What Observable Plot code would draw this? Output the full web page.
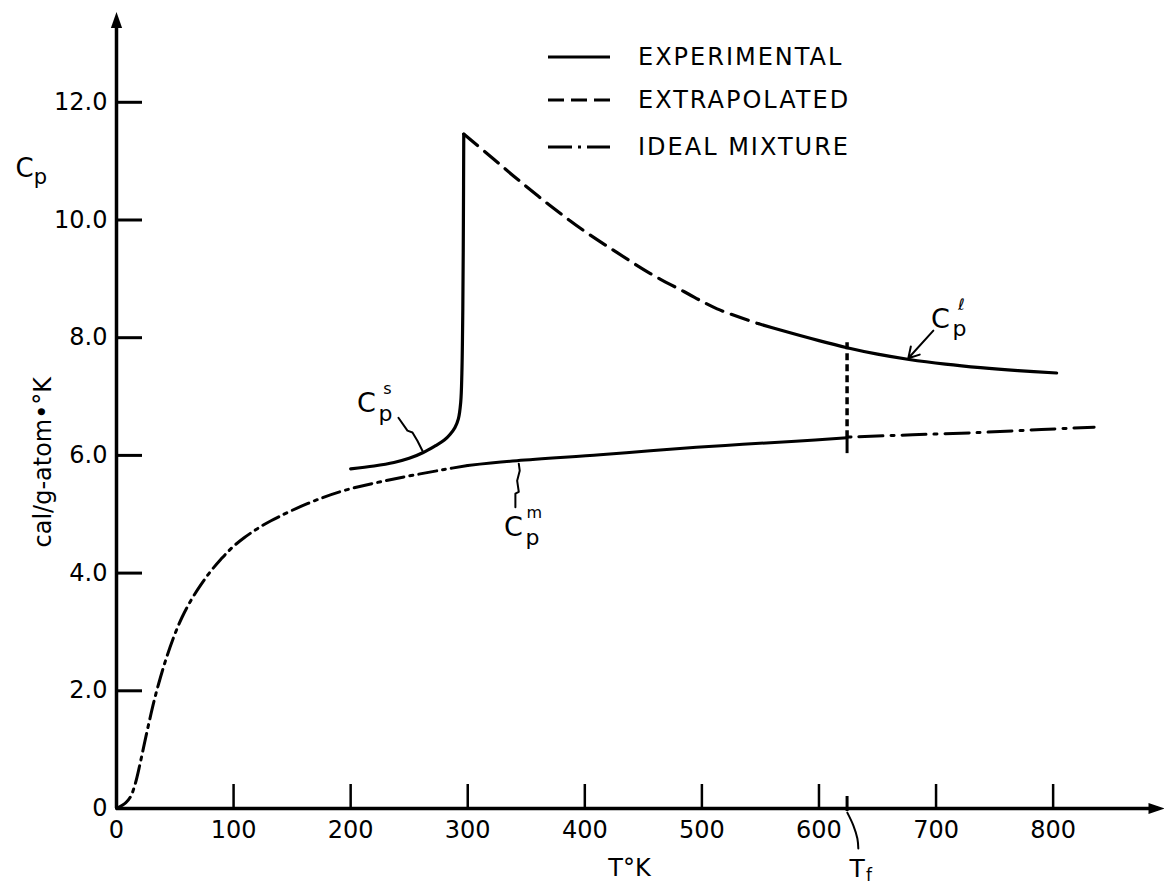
<!DOCTYPE html>
<html><head><meta charset="utf-8">
<script src="https://cdn.jsdelivr.net/npm/d3@7"></script>
<script src="https://cdn.jsdelivr.net/npm/@observablehq/plot@0.6"></script>
<style>
body{margin:0;background:#fff;}
#wrap{position:relative;width:1164px;height:885px;}
#wrap svg.chart{position:absolute;left:0;top:0;}
#legend{position:absolute;left:548px;top:0;font-family:"DejaVu Sans";font-size:24px;letter-spacing:2px;color:#000;}
#legend .row{position:absolute;left:0;display:flex;align-items:center;white-space:nowrap;height:40px;}
#legend .row span{margin-left:28px;}
g[aria-label="ylabel"] text{letter-spacing:1.5px;}
</style></head><body><div id="wrap"></div>
<script>
// ---- data ----
const xTickLabels = [0, 100, 200, 300, 400, 500, 600, 700, 800];
const xTickMarks = [100, 200, 300, 400, 500, 600, 700, 800];
const yTickLabels = [0, 2, 4, 6, 8, 10, 12];
const yTickMarks = [2, 4, 6, 8, 10, 12];
const Tf = 624;

// ideal mixture Cp^m
const idealLowT  = [0, 8, 12, 16, 20, 24, 28, 32, 36, 42, 49, 56, 64, 72, 80, 89, 98, 109, 120, 132, 163, 194, 237, 280, 300];
const idealLowCp = [0, 0.10, 0.20, 0.42, 0.75, 1.12, 1.48, 1.82, 2.12, 2.52, 2.92, 3.25, 3.55, 3.80, 4.02, 4.23, 4.42, 4.60, 4.75, 4.89, 5.18, 5.40, 5.60, 5.76, 5.83];
const idealMidT  = [300, 342, 413, 456, 520, 580, 624];
const idealMidCp = [5.83, 5.91, 6.01, 6.08, 6.17, 6.24, 6.30];
const idealHighT  = [624, 680, 738, 790, 835];
const idealHighCp = [6.31, 6.35, 6.39, 6.44, 6.48];
const idealStepCp = [6.03, 6.30];

// experimental solid Cp^s
const solidT  = [200, 220, 237, 250, 262, 272, 280, 285, 289, 292, 294, 295, 295.8, 296.3, 296.6];
const solidCp = [5.77, 5.82, 5.88, 5.95, 6.05, 6.16, 6.26, 6.36, 6.47, 6.62, 6.9, 7.4, 8.5, 10.0, 11.46];
// extrapolated
const extrapT  = [296.6, 320, 342, 370, 399, 428, 456, 485, 513, 548];
const extrapCp = [11.46, 11.07, 10.70, 10.25, 9.82, 9.44, 9.09, 8.78, 8.49, 8.24];
// experimental liquid Cp^l
const liquidT  = [548, 567, 600, 624, 650, 677, 708, 738, 770, 803];
const liquidCp = [8.24, 8.13, 7.95, 7.83, 7.72, 7.63, 7.55, 7.49, 7.44, 7.40];
const tfLineCp = [6.30, 7.95];

// annotation labels (C_p with superscripts) and leaders
const labelT   = [213.5, 339, 703.7];
const labelCp  = [6.88, 4.775, 8.31];
const labelSup = ["s", "m", "ℓ"];
const leaderST  = [240.8, 248.5, 252.8, 257.0, 261.3];
const leaderSCp = [6.64, 6.42, 6.39, 6.25, 6.08];
const leaderMT  = [343.6, 344.4, 342.2, 343.6, 340.7, 340.7];
const leaderMCp = [5.86, 5.74, 5.57, 5.38, 5.35, 5.12];
const leaderLT  = [697.7, 676.3];
const leaderLCp = [8.12, 7.65];
const leaderTfT  = [624.2, 629.4, 632.8, 633.6];
const leaderTfCp = [-0.07, -0.29, -0.51, -0.68];

const legendLabels = ["EXPERIMENTAL", "EXTRAPOLATED", "IDEAL MIXTURE"];

// ---- build ----
const zipTC = (T, C) => T.map((t, i) => ({T: t, Cp: C[i]}));
const W = 1164, H = 885, mL = 116, mR = 6, mT = 19.4, mB = 77;
const frameW = W - mL - mR, frameH = H - mT - mB;

const arrowUp = {draw(ctx, size) { const r = Math.sqrt(size / Math.PI); ctx.moveTo(0, -r); ctx.lineTo(r * 0.7, r); ctx.lineTo(-r * 0.7, r); ctx.closePath(); }};
const arrowRight = {draw(ctx, size) { const r = Math.sqrt(size / Math.PI); ctx.moveTo(r, 0); ctx.lineTo(-r, r * 0.7); ctx.lineTo(-r, -r * 0.7); ctx.closePath(); }};

const labels = labelT.map((t, i) => ({T: t, Cp: labelCp[i], sup: labelSup[i]}));
const font = "DejaVu Sans";
const mid = {textAnchor: "middle", lineAnchor: "middle"};

const chart = Plot.plot({
  width: W, height: H,
  marginLeft: mL, marginRight: mR, marginTop: mT, marginBottom: mB,
  style: {fontFamily: font, fontSize: "24px", background: "white", color: "black", overflow: "visible"},
  x: {domain: [0, 890], ticks: xTickLabels, tickSize: 0, tickPadding: 12, label: null, tickFormat: d => String(d)},
  y: {domain: [0, 13.4], ticks: yTickLabels, tickSize: 0, tickPadding: 9, label: null, tickFormat: d => d === 0 ? "0" : d.toFixed(1)},
  marks: [
    Plot.ruleX([0], {strokeWidth: 3.5}),
    Plot.ruleY([0], {strokeWidth: 3.5}),
    Plot.dot([0], {frameAnchor: "top-left", symbol: arrowUp, r: 8, fill: "black"}),
    Plot.dot([0], {frameAnchor: "bottom-right", symbol: arrowRight, r: 8, fill: "black", dx: -2}),
    Plot.tickY(yTickMarks, {y: d => d, insetRight: frameW - 26, strokeWidth: 3}),
    Plot.tickX(xTickMarks, {x: d => d, insetTop: frameH - 24, strokeWidth: 2.5}),
    Plot.tickX([Tf], {x: d => d, insetTop: frameH - 12, insetBottom: -3, strokeWidth: 3}),

    // ideal mixture
    Plot.line(zipTC(idealLowT, idealLowCp), {x: "T", y: "Cp", curve: "catmull-rom", strokeWidth: 3, strokeDasharray: "18,6,3,6"}),
    Plot.line(zipTC(idealMidT, idealMidCp), {x: "T", y: "Cp", curve: "catmull-rom", strokeWidth: 3}),
    Plot.line(zipTC(idealHighT, idealHighCp), {x: "T", y: "Cp", curve: "catmull-rom", strokeWidth: 3, strokeDasharray: "24,8,3,8", strokeDashoffset: -12}),
    Plot.ruleX([Tf], {y1: idealStepCp[0], y2: idealStepCp[1], strokeWidth: 3}),

    // experimental / extrapolated
    Plot.line(zipTC(solidT, solidCp), {x: "T", y: "Cp", curve: "catmull-rom", strokeWidth: 3.2}),
    Plot.line(zipTC(extrapT, extrapCp), {x: "T", y: "Cp", curve: "catmull-rom", strokeWidth: 3.2, strokeDasharray: "18,9"}),
    Plot.line(zipTC(liquidT, liquidCp), {x: "T", y: "Cp", curve: "catmull-rom", strokeWidth: 3.2}),
    Plot.ruleX([Tf], {y1: tfLineCp[0], y2: tfLineCp[1], strokeWidth: 3.5, strokeDasharray: "7,4"}),

    // leaders
    Plot.line(zipTC(leaderST, leaderSCp), {x: "T", y: "Cp", strokeWidth: 2}),
    Plot.line(zipTC(leaderMT, leaderMCp), {x: "T", y: "Cp", strokeWidth: 2}),
    Plot.arrow([{T1: leaderLT[0], C1: leaderLCp[0], T2: leaderLT[1], C2: leaderLCp[1]}], {x1: "T1", y1: "C1", x2: "T2", y2: "C2", strokeWidth: 2, headLength: 9}),
    Plot.line(zipTC(leaderTfT, leaderTfCp), {x: "T", y: "Cp", curve: "catmull-rom", strokeWidth: 2}),

    // C_p labels
    Plot.text(labels, {x: "T", y: "Cp", text: () => "C", fontSize: 27, ...mid}),
    Plot.text(labels, {x: "T", y: "Cp", text: () => "p", fontSize: 22, dx: 19, dy: 10, ...mid}),
    Plot.text(labels, {x: "T", y: "Cp", text: "sup", fontSize: 16, dx: 21, dy: -15, ...mid}),

    // Tf label
    Plot.text([Tf], {x: d => d, frameAnchor: "bottom", text: () => "T", fontSize: 25, dx: 10, dy: 60, ...mid}),
    Plot.text([Tf], {x: d => d, frameAnchor: "bottom", text: () => "f", fontSize: 17, dx: 22, dy: 67, ...mid}),

    // axis titles
    Plot.text(["T°K"], {frameAnchor: "bottom", dx: -8, dy: 60, fontSize: 24, ...mid}),
    Plot.text(["C"], {frameAnchor: "top-left", dx: -92, dy: 149, fontSize: 26, ...mid}),
    Plot.text(["p"], {frameAnchor: "top-left", dx: -76, dy: 157, fontSize: 21, ...mid}),
    Plot.text(["cal/g-atom•°K"], {frameAnchor: "left", dx: -73, dy: 48, rotate: -90, fontSize: 24, ariaLabel: "ylabel", ...mid})
  ]
});
chart.classList.add("chart");
const wrap = document.getElementById("wrap");
wrap.appendChild(chart);

// legend
const dashes = ["none", "16,7", "24,6,3,6"];
const rowCenters = [57, 100, 147];
const legend = document.createElement("div");
legend.id = "legend";
legendLabels.forEach((lab, i) => {
  const row = document.createElement("div");
  row.className = "row";
  row.style.top = (rowCenters[i] - 20) + "px";
  row.innerHTML = `<svg width="62" height="40"><line x1="0" x2="62" y1="20" y2="20" stroke="black" stroke-width="3.2" ${dashes[i] === "none" ? "" : `stroke-dasharray="${dashes[i]}"`}/></svg><span>${lab}</span>`;
  legend.appendChild(row);
});
wrap.appendChild(legend);
</script>
</body></html>
